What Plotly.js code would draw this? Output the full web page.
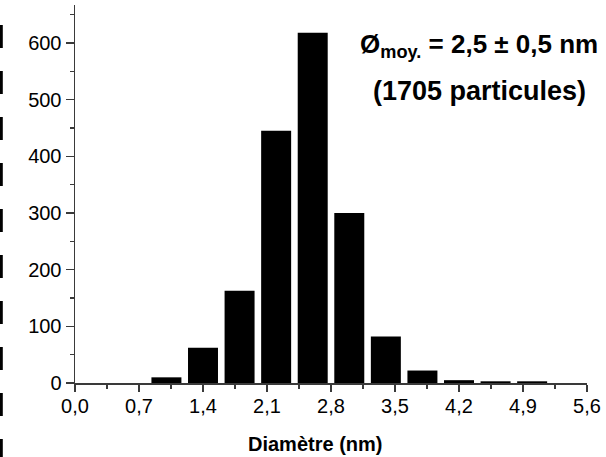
<!DOCTYPE html>
<html>
<head>
<meta charset="utf-8">
<script src="https://cdn.plot.ly/plotly-3.0.1.min.js"></script>
<style>html,body{margin:0;padding:0;background:#fff;}#chart{width:606px;height:457px;}</style>
</head>
<body>
<div id="chart"></div>
<script>
// Data
const diameters = [1.0, 1.4, 1.8, 2.2, 2.6, 3.0, 3.4, 3.8, 4.2, 4.6, 5.0];
const counts = [10, 62, 163, 445, 618, 300, 82, 22, 5, 3, 3];
const xTickVals = [0, 0.7, 1.4, 2.1, 2.8, 3.5, 4.2, 4.9, 5.6];
const yTickVals = [0, 100, 200, 300, 400, 500, 600];
const xLabel = 'Diamètre (nm)';
const noteLine1 = 'Ø<sub>moy.</sub> = 2,5 ± 0,5 nm';
const noteLine2 = '(1705 particules)';

const FONT = 'Liberation Sans, Arial, Helvetica, sans-serif';
const AX = '#3a3a3a';

const trace = {
  type: 'bar',
  x: diameters,
  y: counts,
  marker: {color: '#000000', line: {width: 0}},
  hoverinfo: 'x+y'
};

const layout = {
  width: 606, height: 457,
  margin: {l: 75, r: 19, t: 5, b: 74, pad: 0},
  paper_bgcolor: '#ffffff', plot_bgcolor: '#ffffff',
  separators: ', ',
  bargap: 0.18,
  showlegend: false,
  font: {family: FONT, color: '#000', size: 20},
  xaxis: {
    range: [0, 5.6],
    tickmode: 'array', tickvals: xTickVals, tickformat: '.1f',
    ticks: 'outside', ticklen: 7, tickwidth: 1.3, tickcolor: AX,
    ticklabelstandoff: -3,
    minor: {dtick: 0.35, tick0: 0, ticks: 'outside', ticklen: 4, tickwidth: 1.3, tickcolor: AX, showgrid: false},
    showline: true, linecolor: AX, linewidth: 1.5,
    showgrid: false, zeroline: false,
    tickfont: {family: FONT, size: 20, color: '#000'},
    fixedrange: true
  },
  yaxis: {
    range: [0, 667],
    tickmode: 'array', tickvals: yTickVals,
    ticks: 'outside', ticklen: 8, tickwidth: 1.3, tickcolor: AX,
    minor: {dtick: 50, tick0: 0, ticks: 'outside', ticklen: 4, tickwidth: 1.3, tickcolor: AX, showgrid: false},
    showline: true, linecolor: AX, linewidth: 1.5,
    showgrid: false, zeroline: false,
    tickfont: {family: FONT, size: 20, color: '#000'},
    fixedrange: true
  },
  annotations: [
    {
      xref: 'paper', yref: 'paper',
      x: (315 - 75) / 512, y: (383 - 444) / 378,
      xanchor: 'center', yanchor: 'middle',
      text: '<b>' + xLabel + '</b>', showarrow: false,
      font: {family: FONT, size: 20, color: '#000'}
    },
    {
      xref: 'paper', yref: 'paper',
      x: (479 - 75) / 512, y: (383 - 45) / 378,
      xanchor: 'center', yanchor: 'middle', align: 'center',
      text: '<b>' + noteLine1 + '</b>', showarrow: false,
      font: {family: FONT, size: 26, color: '#000'}
    },
    {
      xref: 'paper', yref: 'paper',
      x: (479.5 - 75) / 512, y: (383 - 91) / 378,
      xanchor: 'center', yanchor: 'middle', align: 'center',
      text: '<b>' + noteLine2 + '</b>', showarrow: false,
      font: {family: FONT, size: 27, color: '#000'}
    }
  ],
  shapes: [
    {
      type: 'line', xref: 'paper', yref: 'paper',
      x0: (1.3 - 75) / 512, x1: (1.3 - 75) / 512,
      y0: (383 - 25) / 378, y1: (383 - 460) / 378,
      line: {color: '#000', width: 3, dash: '23px,23px'}
    }
  ]
};

Plotly.newPlot('chart', [trace], layout, {staticPlot: true, displayModeBar: false});
</script>
</body>
</html>
